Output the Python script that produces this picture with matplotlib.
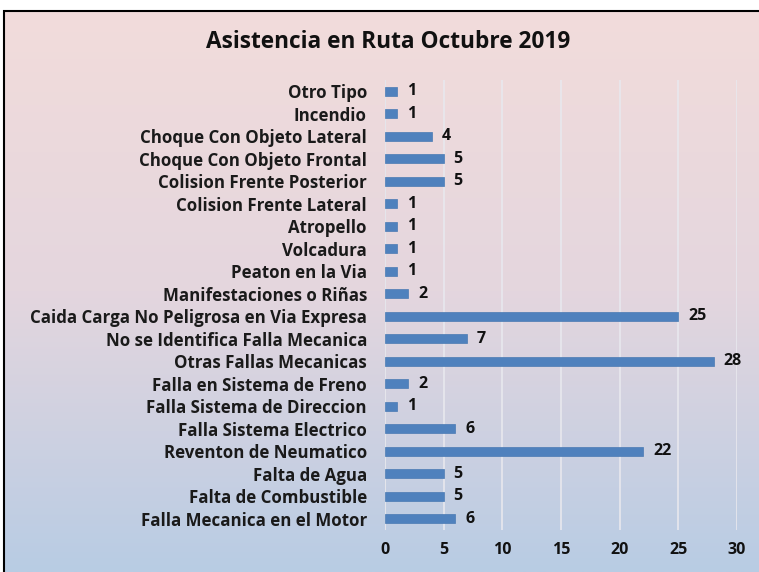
import numpy as np
import matplotlib
matplotlib.use("Agg")
import matplotlib.pyplot as plt
from matplotlib.colors import LinearSegmentedColormap
from matplotlib.patches import Rectangle

categories = [
    "Falla Mecanica en el Motor", "Falta de Combustible", "Falta de Agua",
    "Reventon de Neumatico", "Falla Sistema Electrico", "Falla Sistema de Direccion",
    "Falla en Sistema de Freno", "Otras Fallas Mecanicas", "No se Identifica Falla Mecanica",
    "Caida Carga No Peligrosa en Via Expresa", "Manifestaciones o Riñas", "Peaton en la Via",
    "Volcadura", "Atropello", "Colision Frente Lateral", "Colision Frente Posterior",
    "Choque Con Objeto Frontal", "Choque Con Objeto Lateral", "Incendio", "Otro Tipo",
]
values = [6, 5, 5, 22, 6, 1, 2, 28, 7, 25, 2, 1, 1, 1, 1, 5, 5, 4, 1, 1]
xticks = [0, 5, 10, 15, 20, 25, 30]
title = "Asistencia en Ruta Octubre 2019"

FONT = ["Open Sans", "DejaVu Sans"]
plt.rcParams['font.family'] = FONT

W, H = 759, 572
fig = plt.figure(figsize=(W / 100, H / 100), dpi=100)
fig.patch.set_facecolor("white")

# gradient background
bg = fig.add_axes([4 / W, 0, 1 - 4 / W, 1 - 11 / H], zorder=0)
cmap = LinearSegmentedColormap.from_list("g", ["#f2dcdb", "#e4d6de", "#b8cce4"])
grad = np.linspace(0, 1, 256).reshape(-1, 1)
bg.imshow(grad, aspect="auto", cmap=cmap, extent=[0, 1, 0, 1], origin="upper")
bg.set_xlim(0, 1)
bg.set_ylim(0, 1)
bg.axis("off")
fig.patches.append(Rectangle((4 / W, -0.01), 1.1, 1 - 11 / H + 0.01, transform=fig.transFigure,
                             fill=False, edgecolor="black", linewidth=1.5, zorder=5))

left, right = 385 / W, 737 / W
top, bottom = 1 - 80 / H, 1 - 530 / H
ax = fig.add_axes([left, bottom, right - left, top - bottom], zorder=1)
ax.set_facecolor("none")
y = np.arange(len(categories))
ax.barh(y, values, height=0.38, color="#4f81bd", edgecolor="#4a7ab3", linewidth=0.5, zorder=3)
for yi, v in zip(y, values):
    ax.text(v + 0.85, yi, str(v), va="center", ha="left", fontsize=11.5, fontweight="bold", color="#111111")
ax.set_xlim(0, 30)
ax.set_ylim(-0.5, len(categories) - 0.5)
ax.set_xticks(xticks)
ax.set_yticks(y)
ax.set_yticklabels(categories, fontsize=12.2, fontweight="bold", color="#1a1a1a")
ax.set_xticklabels([str(t) for t in xticks], fontsize=11.5, fontweight="bold", color="#111111")
ax.tick_params(axis="y", length=0, pad=13)
ax.tick_params(axis="x", length=0, pad=9)
ax.grid(axis="x", color="#e8e8ee", linewidth=1.2, zorder=0)
for s in ax.spines.values():
    s.set_visible(False)
ax.axvline(0, color="#d9d9df", linewidth=1.2, zorder=1)

fig.text(388 / W, 1 - 42 / H, title, ha="center", va="center", fontsize=16.3, fontweight="bold",
         color="#111111")

fig.savefig("out.png", dpi=100)
